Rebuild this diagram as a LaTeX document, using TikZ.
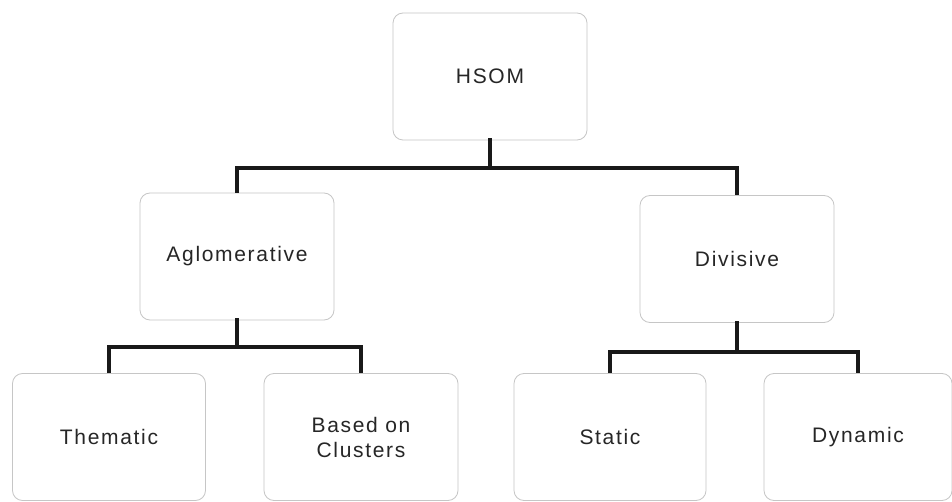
\documentclass[tikz,border=0pt]{standalone}
\usepackage{fontspec}
\setmainfont[LetterSpace=8]{Liberation Sans}
\begin{document}
\begin{tikzpicture}[x=1pt,y=-1pt,
  box/.style={draw=gray!45, line width=0.8pt, rounded corners=10pt, fill=white,
    minimum width=194pt, minimum height=127pt, inner sep=0pt, align=center,
    font=\fontsize{21}{25}\selectfont, text=black!85},
  conn/.style={line width=4.5pt, black!90, line cap=rect}]
\useasboundingbox (0,0) rectangle (952,502);
\fill[white] (0,0) rectangle (952,502);
\node[box] (hsom) at (490,76.5) {HSOM};
\node[box] (agl) at (237,256.5) {Aglomerative};
\node[box] (div) at (737,259) {Divisive};
\node[box, minimum width=193pt] (them) at (109,437) {Thematic};
\node[box, minimum width=194pt] (based) at (361,437) {Based on\\Clusters};
\node[box, minimum width=192pt] (stat) at (610,437) {Static};
\node[box, minimum width=188pt] (dyn) at (858,437) {Dynamic};
\coordinate (b1) at (490,168);
\coordinate (b2) at (237,347);
\coordinate (b3) at (737,352);
\draw[conn] (hsom.south) -- (b1);
\draw[conn, line cap=butt] (agl.north) |- (b1) -| (div.north);
\draw[conn] (agl.south) -- (b2);
\draw[conn, line cap=butt] (them.north) |- (b2) -| (based.north);
\draw[conn] (div.south) -- (b3);
\draw[conn, line cap=butt] (stat.north) |- (b3) -| (dyn.north);
\end{tikzpicture}
\end{document}
